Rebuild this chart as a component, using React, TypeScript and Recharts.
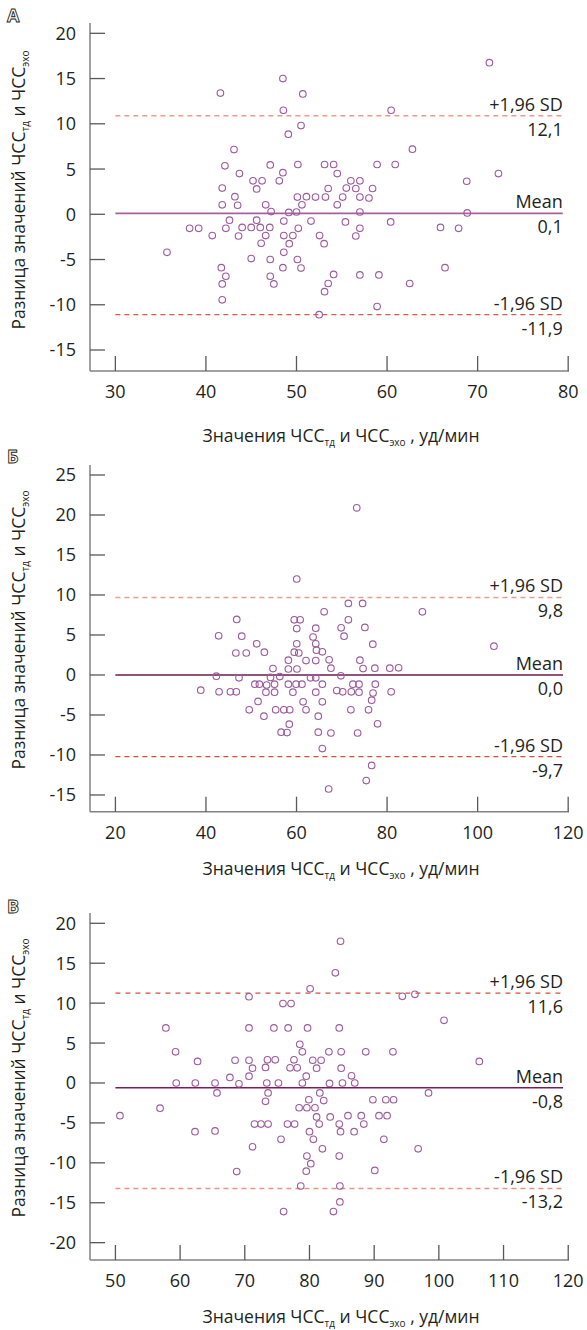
import React from 'react';
import { ScatterChart, Scatter, XAxis, YAxis, ReferenceLine } from 'recharts';

// panel А
const aMean = [41.6, 48.5, 50.7, 71.3, 48.55, 60.45, 50.5, 49.1, 43.1, 62.8, 42.1, 47.1, 50.15, 53.1, 54.1, 58.9, 60.9, 72.3, 43.7, 48.5, 54.5, 45.2, 46.2, 48.1, 56.0, 57.0, 68.8, 41.8, 45.6, 53.5, 55.5, 56.55, 58.4, 43.2, 50.1, 51.1, 52.1, 53.2, 55.1, 57.0, 58.0, 41.8, 43.5, 46.6, 50.6, 54.5, 47.2, 49.15, 50.0, 57.0, 68.85,
  42.6, 45.6, 48.6, 51.6, 55.4, 60.4, 38.2, 39.2, 42.2, 44.0, 45.0, 46.0, 47.05, 50.2, 57.0, 65.9, 67.9, 40.7, 43.6, 46.6, 48.6, 49.6, 52.55, 56.55, 46.1, 49.2, 53.05, 35.7, 48.6, 45.0, 47.1, 50.1, 41.7, 48.5, 50.5, 66.4, 42.2, 47.1, 54.1, 57.0, 59.1, 41.8, 47.5, 53.5, 62.5, 53.1, 41.8, 58.9, 52.5];
const aDiff = [13.4, 15.0, 13.3, 16.75, 11.5, 11.5, 9.8, 8.85, 7.15, 7.2, 5.35, 5.45, 5.5, 5.5, 5.5, 5.5, 5.5, 4.5, 4.5, 4.6, 4.5, 3.7, 3.7, 3.7, 3.7, 3.7, 3.65, 2.9, 2.8, 2.85, 2.9, 2.85, 2.85, 1.95, 1.9, 1.95, 1.9, 1.9, 1.9, 1.9, 1.8, 1.05, 1.0, 1.05, 1.05, 1.05, 0.3, 0.2, 0.25, 0.25, 0.15,
  -0.65, -0.65, -0.75, -0.75, -0.85, -0.85, -1.55, -1.55, -1.55, -1.45, -1.45, -1.45, -1.45, -1.55, -1.55, -1.45, -1.55, -2.35, -2.4, -2.35, -2.35, -2.35, -2.35, -2.4, -3.2, -3.25, -3.25, -4.2, -4.2, -4.9, -5.0, -5.0, -5.9, -5.9, -5.95, -5.9, -6.85, -6.85, -6.65, -6.7, -6.7, -7.7, -7.7, -7.65, -7.65, -8.55, -9.45, -10.2, -11.1];
const aXTicks = [30, 40, 50, 60, 70, 80];
const aYTicks = [-15, -10, -5, 0, 5, 10, 15, 20];
const aLines = [10.9, 0.1, -11.1];
const aLabels = [['+1,96 SD', '12,1'], ['Mean', '0,1'], ['-1,96 SD', '-11,9']];

// panel Б
const bMean = [73.3, 60.05, 71.45, 74.6, 66.1, 87.8, 46.8, 59.5, 60.8, 71.45, 60.05, 64.25, 69.85, 75.1, 42.8, 47.9, 63.65, 70.5, 51.2, 60.05, 64.25, 76.85, 103.6, 46.6, 48.9, 52.9, 59.5, 60.5, 64.4, 65.7, 58.2, 62.1, 64.25, 67.2, 74.0, 54.8, 58.2, 60.1, 67.6, 74.7, 77.3, 80.6, 82.55,
  42.3, 47.3, 54.25, 56.3, 63.1, 64.25, 69.8,
  38.85, 42.9, 45.4, 46.7, 50.8, 51.8, 53.4, 53.25, 55.15, 55.15, 58.2, 59.2, 59.9, 61.2, 64.25, 65.7, 68.9, 70.2, 72.1, 72.45, 73.8, 73.8, 76.9, 77.4, 80.9,
  51.5, 61.45, 65.7, 76.6, 49.55, 55.4, 57.2, 58.5, 62.1, 72.0, 75.9,
  52.8, 64.8, 58.4, 77.9, 56.6, 57.9, 64.8, 67.6, 73.5, 65.7, 76.6, 75.4, 67.1];
const bDiff = [20.9, 12.0, 8.95, 8.95, 7.9, 7.9, 6.95, 6.9, 6.9, 6.9, 5.8, 5.85, 5.9, 5.95, 4.9, 4.85, 4.75, 4.85, 3.9, 3.9, 3.9, 3.85, 3.6, 2.75, 2.75, 2.85, 2.85, 2.75, 3.1, 2.9, 1.85, 1.8, 1.8, 1.9, 1.85, 0.8, 0.75, 0.75, 0.85, 0.8, 0.85, 0.85, 0.9,
  -0.15, -0.35, -0.3, -0.2, -0.35, -0.35, -0.1,
  -1.9, -2.1, -2.1, -2.1, -1.15, -1.15, -1.25, -2.15, -1.15, -2.15, -1.15, -2.15, -1.15, -1.15, -2.15, -1.15, -1.95, -2.1, -2.1, -1.15, -1.15, -2.15, -2.25, -1.15, -2.1,
  -3.3, -3.35, -3.35, -3.15, -4.35, -4.35, -4.35, -4.35, -4.35, -4.35, -4.35,
  -5.15, -5.15, -6.15, -6.1, -7.15, -7.2, -7.15, -7.25, -7.25, -9.2, -11.3, -13.2, -14.25];
const bXTicks = [20, 40, 60, 80, 100, 120];
const bYTicks = [-15, -10, -5, 0, 5, 10, 15, 20, 25];
const bLines = [9.7, 0.0, -10.2];
const bLabels = [['+1,96 SD', '9,8'], ['Mean', '0,0'], ['-1,96 SD', '-9,7']];

// panel В
const cMean = [84.8, 84.0, 80.1, 70.65, 94.35, 96.3, 75.9, 77.15, 100.8, 57.8, 70.65, 74.5, 76.7, 79.7, 84.6, 78.5, 59.3, 78.9, 83.0, 84.9, 88.7, 92.9, 62.7, 68.5, 70.65, 73.5, 74.7, 77.6, 80.5, 81.8, 106.25, 71.2, 73.2, 77.0, 78.1, 81.1, 84.9, 67.7, 70.65, 79.5, 86.5, 59.4, 62.35, 65.4, 69.1, 73.4, 75.2, 78.9, 83.1, 85.1, 87.0,
  65.7, 73.6, 81.6, 98.4, 73.2, 79.9, 82.2, 89.8, 91.8, 93.0, 56.9, 78.4, 79.6, 80.85, 50.7, 81.1, 83.2, 85.95, 88.0, 90.75, 92.0, 71.5, 72.5, 73.6, 76.6, 77.7, 81.5, 84.6, 88.4, 62.3, 65.4, 80.0, 84.8, 86.9, 75.6, 80.6, 91.5, 71.2, 82.0, 96.8, 79.6, 84.6, 80.2, 68.75, 79.5, 90.1, 78.65, 84.7, 84.7, 76.0, 83.7];
const cDiff = [17.75, 13.8, 11.8, 10.8, 10.85, 11.1, 9.95, 9.95, 7.85, 6.9, 6.9, 6.9, 6.9, 6.9, 6.9, 4.85, 3.9, 3.9, 3.9, 3.9, 3.9, 3.9, 2.7, 2.85, 2.85, 2.9, 2.9, 2.9, 2.85, 2.85, 2.7, 1.85, 1.95, 1.9, 1.9, 1.85, 1.85, 0.7, 0.85, 0.85, 0.9, 0, 0, 0, -0.1, 0, 0, 0, -0.05, 0, 0,
  -1.25, -1.25, -1.25, -1.25, -2.3, -2.1, -2.2, -2.1, -2.1, -2.1, -3.15, -3.1, -3.1, -3.1, -4.1, -4.25, -4.25, -4.1, -4.1, -4.1, -4.1, -5.15, -5.15, -5.15, -5.15, -5.15, -5.15, -5.15, -5.15, -6.1, -6.0, -6.1, -6.1, -6.1, -7.05, -7.05, -7.05, -8.0, -8.25, -8.25, -9.15, -9.15, -10.1, -11.1, -11.05, -10.95, -12.9, -12.9, -14.9, -16.1, -16.1];
const cXTicks = [50, 60, 70, 80, 90, 100, 110, 120];
const cYTicks = [-20, -15, -10, -5, 0, 5, 10, 15, 20];
const cLines = [11.25, -0.6, -13.2];
const cLabels = [['+1,96 SD', '11,6'], ['Mean', '-0,8'], ['-1,96 SD', '-13,2']];

const FONT = '"Open Sans", "Noto Sans", sans-serif';
const INK = '#231f20';
const AXIS = '#808285';
const DOT = '#9c5b9c';
const PLOT_LEFT = 90;

const toRows = (xs: number[], ys: number[]) => xs.map((x, i) => ({ x, y: ys[i] }));

const Dot = (p: any) => (
  <circle cx={p.cx} cy={p.cy} r={3.3} fill="none" stroke={DOT} strokeWidth={1.1} />
);

const YTick = (p: any) => (
  <g>
    <line x1={PLOT_LEFT} x2={PLOT_LEFT + 15} y1={p.y} y2={p.y} stroke="#58595b" strokeWidth={1.3} />
    <text x={PLOT_LEFT - 14} y={p.y} dy="0.36em" textAnchor="end" fontSize={18} fill={INK} fontFamily={FONT}>
      {p.payload.value}
    </text>
  </g>
);

const makeXTick = (bottom: number) => (p: any) => (
  <g>
    <line x1={p.x} x2={p.x} y1={bottom} y2={bottom - 15} stroke="#58595b" strokeWidth={1.3} />
    <text x={p.x} y={bottom + 21} dy="0.36em" textAnchor="middle" fontSize={18} fill={INK} fontFamily={FONT}>
      {p.payload.value}
    </text>
  </g>
);

const RefLabel = (p: any) => {
  const vb = p.viewBox || {};
  const x = (vb.x || 0) + (vb.width || 0);
  const y = vb.y || 0;
  return (
    <g fontFamily={FONT} fontSize={18} fill={INK}>
      <text x={x} y={y - 5} textAnchor="end">{p.top}</text>
      <text x={x} y={y + 20} textAnchor="end">{p.bottom}</text>
    </g>
  );
};

interface LineStyle { color: string; dash?: string; width: number }

interface PanelProps {
  top: number;
  height: number;
  marginTop: number;
  plotHeight: number;
  xs: number[];
  ys: number[];
  xDomain: [number, number];
  yDomain: [number, number];
  xTicks: number[];
  yTicks: number[];
  lines: number[];
  labels: string[][];
  lineSpan: [number, number];
  styles: LineStyle[];
}

function Panel({ top, height, marginTop, plotHeight, xs, ys, xDomain, yDomain, xTicks, yTicks, lines, labels, lineSpan, styles }: PanelProps) {
  const rows = toRows(xs, ys);
  const bottom = marginTop + plotHeight;
  return (
    <div style={{ position: 'absolute', top, left: 0 }}>
      <ScatterChart width={587} height={height} margin={{ top: marginTop, right: 18, bottom: 0, left: 0 }}>
        <XAxis
          type="number"
          dataKey="x"
          domain={xDomain}
          ticks={xTicks}
          allowDataOverflow
          height={height - bottom}
          tick={makeXTick(bottom)}
          tickLine={false}
          axisLine={{ stroke: AXIS, strokeWidth: 1.5 }}
        />
        <YAxis
          type="number"
          dataKey="y"
          domain={yDomain}
          ticks={yTicks}
          allowDataOverflow
          width={PLOT_LEFT}
          tick={<YTick />}
          tickLine={false}
          axisLine={{ stroke: AXIS, strokeWidth: 1.5 }}
        />
        {lines.map((v, i) => (
          <ReferenceLine
            key={i}
            segment={[{ x: lineSpan[0], y: v }, { x: lineSpan[1], y: v }]}
            stroke={styles[i].color}
            strokeWidth={styles[i].width}
            strokeDasharray={styles[i].dash}
            label={<RefLabel top={labels[i][0]} bottom={labels[i][1]} />}
          />
        ))}
        <Scatter data={rows} shape={<Dot />} isAnimationActive={false} />
      </ScatterChart>
    </div>
  );
}

const Sub = ({ children }: { children: React.ReactNode }) => (
  <span style={{ fontSize: 10, verticalAlign: '-0.4em', lineHeight: 1 }}>{children}</span>
);

const XTitle = ({ y }: { y: number }) => (
  <div style={{ position: 'absolute', left: 341, top: y, transform: 'translate(-50%, -50%)', whiteSpace: 'nowrap', fontFamily: FONT, fontSize: 17.5, color: INK, lineHeight: 1 }}>
    Значения ЧСС<Sub>тд</Sub> и ЧСС<Sub>эхо</Sub> , уд/мин
  </div>
);

const YTitle = ({ y }: { y: number }) => (
  <div style={{ position: 'absolute', left: 20, top: y, transform: 'translate(-50%, -50%) rotate(-90deg)', whiteSpace: 'nowrap', fontFamily: FONT, fontSize: 17.5, color: INK, lineHeight: 1 }}>
    Разница значений ЧСС<Sub>тд</Sub> и ЧСС<Sub>эхо</Sub>
  </div>
);

const Letter = ({ y, children }: { y: number; children: React.ReactNode }) => (
  <div style={{ position: 'absolute', left: 7, top: y, fontFamily: FONT, fontSize: 18, fontWeight: 700, color: '#fff', WebkitTextStroke: `0.9px ${INK}`, lineHeight: 1 }}>
    {children}
  </div>
);

export default function App() {
  return (
    <div style={{ position: 'absolute', top: 0, left: 0, width: 587, height: 1330, background: '#fff', overflow: 'hidden' }}>
      <Letter y={6}>А</Letter>
      <Panel
        top={0} height={450} marginTop={23} plotHeight={348}
        xs={aMean} ys={aDiff}
        xDomain={[27.2, 80.09]} yDomain={[-17.32, 21.14]}
        xTicks={aXTicks} yTicks={aYTicks}
        lines={aLines} labels={aLabels} lineSpan={[30, 79.4]}
        styles={[
          { color: '#eb9a8c', dash: '5 4', width: 1.5 },
          { color: '#a5619f', width: 1.6 },
          { color: '#d9594c', dash: '5 4', width: 1.2 },
        ]}
      />
      <XTitle y={437} />
      <YTitle y={190} />

      <Letter y={447}>Б</Letter>
      <Panel
        top={450} height={445} marginTop={15} plotHeight={346.7}
        xs={bMean} ys={bDiff}
        xDomain={[14.39, 120.18]} yDomain={[-17.09, 26.25]}
        xTicks={bXTicks} yTicks={bYTicks}
        lines={bLines} labels={bLabels} lineSpan={[20, 118.85]}
        styles={[
          { color: '#eb9a8c', dash: '5 4', width: 1.5 },
          { color: '#6a1b4d', width: 1.3 },
          { color: '#d3503c', dash: '5 4', width: 1.2 },
        ]}
      />
      <XTitle y={870} />
      <YTitle y={630} />

      <Letter y={897}>В</Letter>
      <Panel
        top={895} height={435} marginTop={18} plotHeight={347}
        xs={cMean} ys={cDiff}
        xDomain={[46.07, 120.12]} yDomain={[-22.17, 21.29]}
        xTicks={cXTicks} yTicks={cYTicks}
        lines={cLines} labels={cLabels} lineSpan={[50, 119.2]}
        styles={[
          { color: '#d4503a', dash: '5 5', width: 1.2 },
          { color: '#781c5c', width: 1.5 },
          { color: '#eb9486', dash: '5 4', width: 1.5 },
        ]}
      />
      <XTitle y={1318} />
      <YTitle y={1078} />
    </div>
  );
}
